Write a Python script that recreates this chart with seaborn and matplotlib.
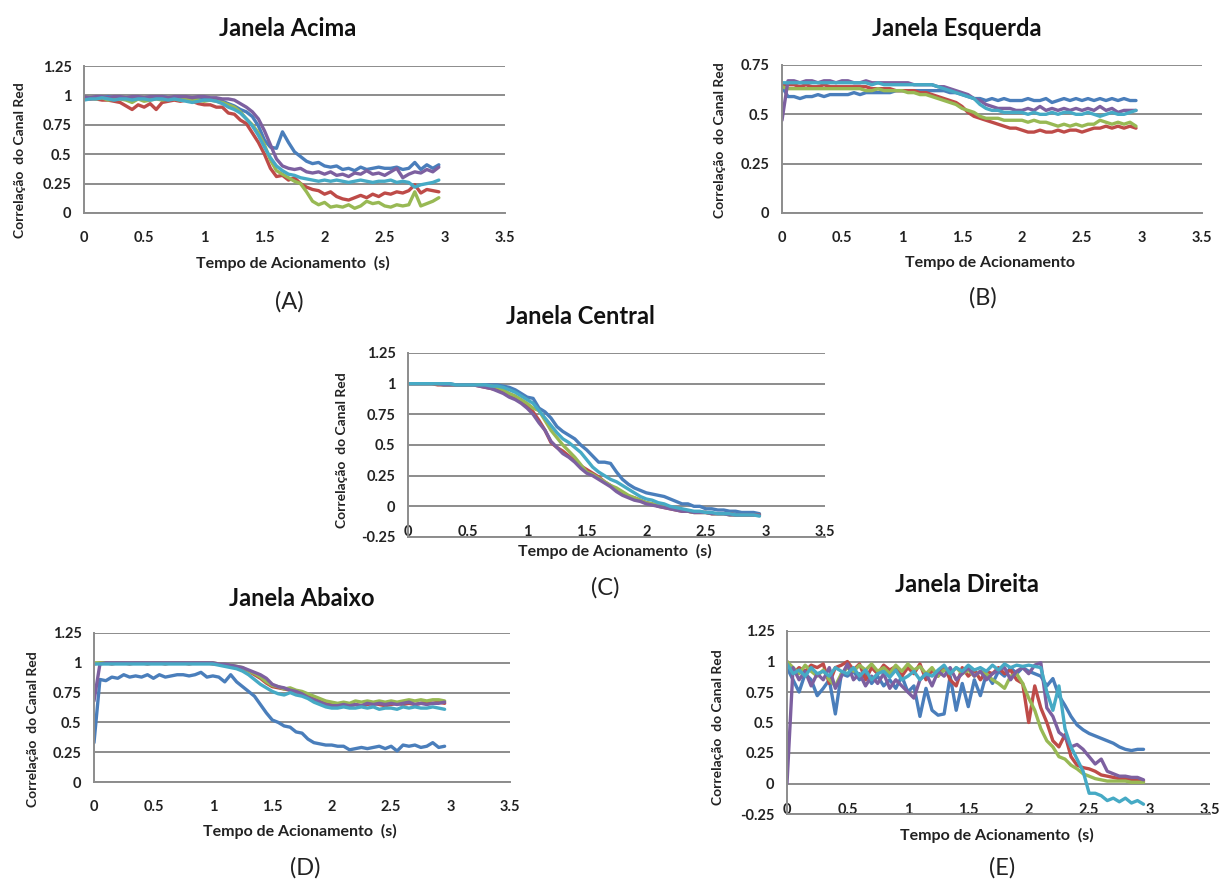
import numpy as np
import pandas as pd
import matplotlib.pyplot as plt
import seaborn as sns

# tempo (s)
T = [0.0, 0.05, 0.1, 0.15, 0.2, 0.25, 0.3, 0.35, 0.4, 0.45,
     0.5, 0.55, 0.6, 0.65, 0.7, 0.75, 0.8, 0.85, 0.9, 0.95,
     1.0, 1.05, 1.1, 1.15, 1.2, 1.25, 1.3, 1.35, 1.4, 1.45,
     1.5, 1.55, 1.6, 1.65, 1.7, 1.75, 1.8, 1.85, 1.9, 1.95,
     2.0, 2.05, 2.1, 2.15, 2.2, 2.25, 2.3, 2.35, 2.4, 2.45,
     2.5, 2.55, 2.6, 2.65, 2.7, 2.75, 2.8, 2.85, 2.9, 2.95]

# Janela Acima
A_azul = [0.98, 0.97, 0.98, 0.98, 0.99, 0.98, 0.98, 0.97, 0.98, 0.98,
          0.97, 0.98, 0.98, 0.99, 0.98, 0.98, 0.98, 0.97, 0.98, 0.98,
          0.98, 0.97, 0.97, 0.95, 0.93, 0.91, 0.88, 0.86, 0.82, 0.74,
          0.62, 0.56, 0.55, 0.69, 0.6, 0.52, 0.48, 0.44, 0.42, 0.43,
          0.4, 0.39, 0.4, 0.37, 0.38, 0.36, 0.39, 0.37, 0.38, 0.39,
          0.38, 0.38, 0.39, 0.37, 0.38, 0.43, 0.37, 0.41, 0.38, 0.41]
A_verm = [0.98, 0.97, 0.97, 0.96, 0.96, 0.95, 0.94, 0.91, 0.88, 0.92,
          0.9, 0.93, 0.88, 0.94, 0.95, 0.96, 0.95, 0.96, 0.95, 0.93,
          0.92, 0.92, 0.9, 0.9, 0.85, 0.84, 0.79, 0.76, 0.68, 0.6,
          0.5, 0.38, 0.31, 0.32, 0.28, 0.3, 0.25, 0.22, 0.2, 0.19,
          0.16, 0.18, 0.14, 0.12, 0.11, 0.13, 0.15, 0.13, 0.16, 0.14,
          0.17, 0.16, 0.18, 0.17, 0.19, 0.24, 0.17, 0.2, 0.19, 0.18]
A_verde = [0.99, 0.98, 0.97, 0.98, 0.96, 0.97, 0.97, 0.96, 0.94, 0.97,
           0.95, 0.96, 0.97, 0.96, 0.97, 0.97, 0.96, 0.97, 0.96, 0.96,
           0.95, 0.96, 0.95, 0.94, 0.92, 0.9, 0.86, 0.8, 0.75, 0.68,
           0.58, 0.45, 0.36, 0.33, 0.3, 0.27, 0.25, 0.18, 0.1, 0.07,
           0.09, 0.05, 0.06, 0.05, 0.07, 0.04, 0.06, 0.1, 0.08, 0.09,
           0.06, 0.05, 0.07, 0.06, 0.07, 0.18, 0.06, 0.08, 0.1, 0.13]
A_roxo = [0.99, 0.98, 0.99, 0.99, 0.98, 0.99, 0.99, 0.98, 0.99, 0.99,
          0.98, 0.99, 0.99, 0.99, 0.98, 0.99, 0.99, 0.99, 0.98, 0.99,
          0.99, 0.98, 0.98, 0.97, 0.97, 0.96, 0.93, 0.9, 0.86, 0.8,
          0.7, 0.58, 0.46, 0.4, 0.38, 0.37, 0.38, 0.35, 0.34, 0.35,
          0.33, 0.35, 0.32, 0.33, 0.31, 0.34, 0.33, 0.36, 0.33, 0.34,
          0.32, 0.35, 0.38, 0.3, 0.33, 0.35, 0.34, 0.37, 0.35, 0.39]
A_ciano = [0.96, 0.97, 0.97, 0.98, 0.97, 0.96, 0.97, 0.97, 0.96, 0.97,
           0.97, 0.96, 0.97, 0.97, 0.96, 0.97, 0.96, 0.95, 0.94, 0.95,
           0.96, 0.96, 0.95, 0.93, 0.9, 0.88, 0.85, 0.8, 0.74, 0.66,
           0.56, 0.47, 0.4, 0.36, 0.33, 0.32, 0.3, 0.29, 0.28, 0.27,
           0.28, 0.27, 0.28, 0.27, 0.26, 0.27, 0.28, 0.27, 0.26, 0.27,
           0.27, 0.28, 0.26, 0.27, 0.26, 0.22, 0.24, 0.25, 0.26, 0.28]

# Janela Esquerda
B_azul = [0.64, 0.59, 0.59, 0.58, 0.59, 0.59, 0.6, 0.59, 0.6, 0.6,
          0.6, 0.6, 0.61, 0.6, 0.61, 0.61, 0.61, 0.61, 0.61, 0.62,
          0.62, 0.62, 0.62, 0.62, 0.62, 0.62, 0.62, 0.62, 0.61, 0.61,
          0.6, 0.59, 0.58, 0.58, 0.57, 0.58, 0.57, 0.58, 0.57, 0.57,
          0.57, 0.58, 0.57, 0.57, 0.58, 0.56, 0.57, 0.58, 0.57, 0.58,
          0.57, 0.58, 0.57, 0.58, 0.57, 0.58, 0.57, 0.58, 0.57, 0.57]
B_verm = [0.65, 0.65, 0.65, 0.64, 0.65, 0.64, 0.64, 0.65, 0.64, 0.64,
          0.64, 0.64, 0.64, 0.64, 0.64, 0.63, 0.63, 0.63, 0.63, 0.62,
          0.62, 0.62, 0.62, 0.61, 0.61, 0.6, 0.59, 0.58, 0.57, 0.56,
          0.54, 0.51, 0.49, 0.48, 0.47, 0.46, 0.45, 0.44, 0.43, 0.43,
          0.42, 0.41, 0.41, 0.42, 0.41, 0.41, 0.42, 0.41, 0.42, 0.42,
          0.41, 0.42, 0.43, 0.43, 0.44, 0.43, 0.44, 0.43, 0.44, 0.43]
B_verde = [0.64, 0.63, 0.63, 0.63, 0.63, 0.63, 0.63, 0.63, 0.63, 0.63,
           0.63, 0.63, 0.63, 0.63, 0.62, 0.62, 0.63, 0.62, 0.62, 0.62,
           0.62, 0.61, 0.61, 0.6, 0.6, 0.59, 0.58, 0.57, 0.56, 0.55,
           0.53, 0.52, 0.51, 0.49, 0.48, 0.48, 0.48, 0.47, 0.47, 0.47,
           0.47, 0.46, 0.47, 0.46, 0.46, 0.45, 0.44, 0.45, 0.44, 0.45,
           0.44, 0.45, 0.45, 0.47, 0.46, 0.45, 0.46, 0.45, 0.46, 0.44]
B_roxo = [0.47, 0.67, 0.67, 0.66, 0.67, 0.67, 0.66, 0.67, 0.67, 0.66,
          0.67, 0.67, 0.66, 0.66, 0.67, 0.66, 0.66, 0.66, 0.66, 0.66,
          0.66, 0.66, 0.65, 0.65, 0.65, 0.65, 0.64, 0.64, 0.63, 0.62,
          0.61, 0.6, 0.58, 0.57, 0.55, 0.54, 0.53, 0.53, 0.53, 0.52,
          0.52, 0.53, 0.52, 0.54, 0.52, 0.53, 0.52, 0.53, 0.52, 0.53,
          0.52, 0.53, 0.52, 0.54, 0.52, 0.53, 0.51, 0.52, 0.52, 0.52]
B_ciano = [0.66, 0.66, 0.66, 0.66, 0.66, 0.66, 0.66, 0.66, 0.66, 0.66,
           0.66, 0.66, 0.66, 0.66, 0.66, 0.65, 0.66, 0.65, 0.65, 0.65,
           0.65, 0.65, 0.65, 0.65, 0.65, 0.65, 0.64, 0.63, 0.62, 0.61,
           0.6, 0.59, 0.58, 0.55, 0.53, 0.52, 0.52, 0.51, 0.51, 0.51,
           0.51, 0.5, 0.51, 0.5, 0.5, 0.51, 0.5, 0.51, 0.51, 0.5,
           0.5, 0.51, 0.5, 0.49, 0.5, 0.51, 0.5, 0.5, 0.51, 0.52]

# Janela Central
C_azul = [1.0, 1.0, 1.0, 1.0, 1.0, 1.0, 1.0, 1.0, 0.99, 0.99,
          0.99, 0.99, 0.99, 0.99, 0.99, 0.99, 0.98, 0.97, 0.95, 0.92,
          0.89, 0.88, 0.8, 0.77, 0.72, 0.65, 0.61, 0.58, 0.55, 0.5,
          0.46, 0.41, 0.36, 0.36, 0.35, 0.28, 0.22, 0.18, 0.15, 0.13,
          0.11, 0.1, 0.09, 0.08, 0.06, 0.04, 0.02, 0.02, 0.0, 0.0,
          -0.02, -0.02, -0.03, -0.03, -0.04, -0.04, -0.05, -0.05, -0.05, -0.06]
C_verm = [1.0, 1.0, 1.0, 1.0, 1.0, 0.99, 0.99, 0.99, 0.99, 0.99,
          0.99, 0.99, 0.98, 0.97, 0.96, 0.95, 0.93, 0.9, 0.88, 0.85,
          0.82, 0.77, 0.7, 0.62, 0.52, 0.48, 0.45, 0.41, 0.37, 0.33,
          0.3, 0.27, 0.24, 0.2, 0.17, 0.13, 0.1, 0.08, 0.07, 0.05,
          0.03, 0.02, 0.0, -0.01, -0.02, -0.03, -0.04, -0.04, -0.05, -0.05,
          -0.05, -0.06, -0.06, -0.06, -0.06, -0.07, -0.07, -0.07, -0.07, -0.07]
C_verde = [1.0, 1.0, 1.0, 1.0, 1.0, 1.0, 0.99, 0.99, 0.99, 0.99,
           0.99, 0.99, 0.99, 0.98, 0.98, 0.97, 0.95, 0.92, 0.9, 0.87,
           0.84, 0.8, 0.78, 0.7, 0.62, 0.56, 0.5, 0.45, 0.4, 0.34,
           0.28, 0.26, 0.23, 0.2, 0.17, 0.15, 0.12, 0.09, 0.07, 0.05,
           0.03, 0.02, 0.01, 0.0, -0.01, -0.02, -0.03, -0.04, -0.05, -0.05,
           -0.05, -0.06, -0.06, -0.06, -0.07, -0.07, -0.07, -0.07, -0.07, -0.07]
C_roxo = [1.0, 1.0, 1.0, 1.0, 1.0, 1.0, 0.99, 0.99, 0.99, 0.99,
          0.99, 0.99, 0.98, 0.97, 0.96, 0.94, 0.92, 0.89, 0.87, 0.84,
          0.8, 0.75, 0.68, 0.62, 0.53, 0.48, 0.43, 0.4, 0.36, 0.31,
          0.27, 0.25, 0.22, 0.19, 0.16, 0.12, 0.09, 0.07, 0.05, 0.04,
          0.02, 0.01, 0.0, -0.01, -0.02, -0.03, -0.04, -0.04, -0.05, -0.05,
          -0.05, -0.06, -0.06, -0.06, -0.07, -0.07, -0.07, -0.07, -0.07, -0.07]
C_ciano = [1.0, 1.0, 1.0, 1.0, 1.0, 1.0, 1.0, 1.0, 0.99, 0.99,
           0.99, 0.99, 0.99, 0.99, 0.98, 0.98, 0.97, 0.95, 0.93, 0.9,
           0.87, 0.84, 0.78, 0.72, 0.66, 0.6, 0.55, 0.52, 0.48, 0.44,
           0.38, 0.32, 0.28, 0.25, 0.22, 0.2, 0.17, 0.14, 0.11, 0.08,
           0.06, 0.05, 0.03, 0.02, 0.0, -0.01, -0.02, -0.03, -0.04, -0.04,
           -0.05, -0.05, -0.06, -0.06, -0.06, -0.07, -0.07, -0.07, -0.07, -0.08]

# Janela Abaixo
D_azul = [0.33, 0.86, 0.85, 0.88, 0.87, 0.9, 0.88, 0.89, 0.88, 0.9,
          0.87, 0.9, 0.88, 0.89, 0.9, 0.9, 0.89, 0.9, 0.92, 0.88,
          0.89, 0.88, 0.84, 0.9, 0.84, 0.8, 0.76, 0.72, 0.65, 0.58,
          0.52, 0.5, 0.47, 0.46, 0.42, 0.41, 0.36, 0.33, 0.32, 0.31,
          0.31, 0.3, 0.3, 0.27, 0.28, 0.29, 0.28, 0.29, 0.3, 0.28,
          0.3, 0.26, 0.31, 0.3, 0.31, 0.29, 0.3, 0.33, 0.29, 0.3]
D_verm = [0.99, 1.0, 1.0, 0.99, 1.0, 1.0, 0.99, 1.0, 1.0, 0.99,
          1.0, 1.0, 0.99, 1.0, 1.0, 1.0, 0.99, 1.0, 1.0, 1.0,
          0.99, 0.99, 0.98, 0.97, 0.96, 0.95, 0.93, 0.9, 0.87, 0.83,
          0.8, 0.79, 0.78, 0.77, 0.76, 0.74, 0.72, 0.7, 0.68, 0.66,
          0.65, 0.64, 0.65, 0.64, 0.65, 0.64, 0.65, 0.66, 0.65, 0.64,
          0.65, 0.66, 0.65, 0.66, 0.65, 0.66, 0.67, 0.66, 0.67, 0.66]
D_verde = [1.0, 1.0, 1.0, 1.0, 1.0, 1.0, 1.0, 1.0, 1.0, 1.0,
           1.0, 1.0, 1.0, 1.0, 1.0, 1.0, 1.0, 1.0, 1.0, 1.0,
           1.0, 0.99, 0.99, 0.98, 0.97, 0.96, 0.93, 0.91, 0.88, 0.84,
           0.81, 0.8, 0.78, 0.79, 0.77, 0.76, 0.74, 0.72, 0.7, 0.68,
           0.67, 0.66, 0.67, 0.66, 0.68, 0.67, 0.68, 0.67, 0.68, 0.67,
           0.68, 0.67, 0.68, 0.69, 0.68, 0.69, 0.68, 0.69, 0.69, 0.68]
D_roxo = [0.68, 0.99, 1.0, 1.0, 1.0, 1.0, 1.0, 1.0, 1.0, 1.0,
          1.0, 1.0, 1.0, 1.0, 1.0, 1.0, 1.0, 1.0, 1.0, 1.0,
          1.0, 0.99, 0.99, 0.98, 0.97, 0.96, 0.94, 0.92, 0.9, 0.87,
          0.82, 0.8, 0.79, 0.77, 0.76, 0.74, 0.71, 0.69, 0.67, 0.65,
          0.64, 0.64, 0.65, 0.64, 0.65, 0.64, 0.66, 0.65, 0.66, 0.65,
          0.66, 0.65, 0.66, 0.67, 0.65, 0.66, 0.65, 0.66, 0.66, 0.67]
D_ciano = [0.99, 0.99, 0.99, 0.99, 0.99, 0.99, 0.99, 0.99, 0.99, 0.99,
           0.99, 0.99, 0.99, 0.99, 0.99, 0.99, 0.99, 0.99, 0.99, 0.99,
           0.99, 0.98, 0.97, 0.96, 0.95, 0.93, 0.9, 0.86, 0.82, 0.79,
           0.76, 0.74, 0.73, 0.75, 0.73, 0.72, 0.7, 0.67, 0.65, 0.63,
           0.62, 0.62, 0.63, 0.62, 0.62, 0.63, 0.62, 0.63, 0.61, 0.62,
           0.62, 0.61, 0.63, 0.62, 0.63, 0.62, 0.62, 0.63, 0.62, 0.61]

# Janela Direita
E_azul = [0.95, 0.85, 0.75, 0.9, 0.85, 0.72, 0.78, 0.85, 0.57, 0.9,
          0.88, 0.92, 0.85, 0.9, 0.82, 0.88, 0.8, 0.85, 0.78, 0.88,
          0.75, 0.8, 0.55, 0.78, 0.6, 0.56, 0.57, 0.88, 0.6, 0.82,
          0.63, 0.85, 0.72, 0.9, 0.82, 0.92, 0.88, 0.95, 0.9, 0.95,
          0.92, 0.9, 0.88, 0.8, 0.86, 0.72, 0.64, 0.55, 0.48, 0.44,
          0.41, 0.39, 0.37, 0.35, 0.33, 0.3, 0.28, 0.27, 0.28, 0.28]
E_verm = [1.0, 0.9, 0.95, 0.92, 0.97, 0.95, 0.98, 0.82, 0.95, 0.97,
          1.0, 0.93, 0.98, 0.85, 0.95, 0.9, 0.97, 0.93, 0.96, 0.88,
          0.95, 0.9, 0.98, 0.85, 0.93, 0.88, 0.96, 0.85, 0.8, 0.95,
          0.88, 0.93, 0.85, 0.92, 0.9, 0.95, 0.9, 0.93, 0.85, 0.82,
          0.5, 0.8, 0.62, 0.5, 0.35, 0.3, 0.4, 0.22, 0.15, 0.13,
          0.12, 0.1, 0.07, 0.06, 0.05, 0.04, 0.04, 0.03, 0.03, 0.02]
E_verde = [1.0, 0.95, 0.9, 0.97, 0.92, 0.88, 0.93, 0.85, 0.8, 0.9,
           0.95, 0.92, 0.97, 0.93, 0.98, 0.92, 0.95, 0.9, 0.97, 0.92,
           0.98, 0.93, 0.96, 0.9, 0.95, 0.88, 0.93, 0.9, 0.95, 0.9,
           0.93, 0.88, 0.92, 0.9, 0.85, 0.82, 0.78, 0.88, 0.9, 0.82,
           0.7, 0.6, 0.45, 0.35, 0.3, 0.22, 0.2, 0.15, 0.12, 0.08,
           0.06, 0.04, 0.03, 0.02, 0.02, 0.02, 0.02, 0.01, 0.01, 0.01]
E_roxo = [0.0, 0.95, 0.85, 0.92, 0.8, 0.9, 0.85, 0.95, 0.78, 0.88,
          0.98, 0.85, 0.9, 0.8, 0.88, 0.82, 0.9, 0.78, 0.85, 0.8,
          0.75, 0.7, 0.85, 0.9, 0.8, 0.92, 0.88, 0.95, 0.85, 0.9,
          0.95, 0.88, 0.92, 0.85, 0.9, 0.93, 0.95, 0.85, 0.92, 0.95,
          0.9, 0.97, 0.99, 0.62, 0.55, 0.42, 0.38, 0.3, 0.32, 0.28,
          0.22, 0.16, 0.2, 0.1, 0.08, 0.06, 0.06, 0.05, 0.05, 0.03]
E_ciano = [0.98, 0.9, 0.93, 0.88, 0.95, 0.9, 0.92, 0.88, 0.95, 0.92,
           0.9, 0.95, 0.88, 0.93, 0.85, 0.9, 0.92, 0.87, 0.93, 0.85,
           0.88, 0.92, 0.85, 0.9, 0.88, 0.93, 0.97, 0.9, 0.95, 0.92,
           0.97, 0.93, 0.95, 0.92, 0.97, 0.93, 0.98, 0.95, 0.97, 0.96,
           0.97, 0.96, 0.95, 0.75, 0.6, 0.8, 0.45, 0.3, 0.2, 0.1,
           -0.08, -0.08, -0.1, -0.14, -0.12, -0.15, -0.12, -0.16, -0.14, -0.17]

SERIES = ['s1', 's2', 's3', 's4', 's5']
CORES = ['#4A7EBB', '#BE4B48', '#98B954', '#7D60A0', '#46AAC5']
XTICKS = [0, 0.5, 1, 1.5, 2, 2.5, 3, 3.5]
XLABELS = ['0', '0.5', '1', '1.5', '2', '2.5', '3', '3.5']
GRADE = '#8c8c8c'

sns.set_style('white')
plt.rcParams['font.family'] = ['Lato', 'DejaVu Sans']

W, H = 1225, 881
fig = plt.figure(figsize=(W / 100, H / 100), dpi=100)


def px_axes(l, r, t, b):
    return fig.add_axes([l / W, 1 - b / H, (r - l) / W, (b - t) / H])


def painel(ax, dados, ymin, ymax, yticks, ylabels, xpad):
    df = pd.DataFrame({
        't': T * 5,
        'valor': sum(dados, []),
        'serie': [s for s in SERIES for _ in T],
    })
    sns.lineplot(data=df, x='t', y='valor', hue='serie', palette=CORES,
                 legend=False, linewidth=2.4, estimator=None, sort=False, ax=ax)
    ax.set_xlim(0, 3.5)
    ax.set_ylim(ymin, ymax)
    ax.set_xticks(XTICKS)
    ax.set_xticklabels(XLABELS, fontweight='bold', fontsize=10.5, color='#222222')
    ax.set_yticks(yticks)
    ax.set_yticklabels(ylabels, fontweight='bold', fontsize=10.5, color='#222222')
    ax.yaxis.grid(True, color=GRADE, lw=1.4)
    ax.xaxis.grid(False)
    ax.set_axisbelow(True)
    for lado in ['top', 'right']:
        ax.spines[lado].set_visible(False)
    for lado in ['left', 'bottom']:
        ax.spines[lado].set_color(GRADE)
        ax.spines[lado].set_linewidth(1.4)
    ax.tick_params(axis='x', length=0, pad=xpad)
    ax.tick_params(axis='y', length=0, pad=9)
    ax.set_xlabel('')
    ax.set_ylabel('')


def textos(titulo, tpos, xlab, xpos, ypos, cap, cpos):
    fig.text(tpos[0] / W, 1 - tpos[1] / H, titulo, ha='center', va='center',
             fontsize=17, fontweight='bold', color='#111111')
    fig.text(xpos[0] / W, 1 - xpos[1] / H, xlab, ha='center', va='center',
             fontsize=11.5, fontweight='bold', color='#222222')
    fig.text(ypos[0] / W, 1 - ypos[1] / H, 'Correlação  do Canal Red', ha='center',
             va='center', rotation=90, fontsize=10, fontweight='bold', color='#222222')
    fig.text(cpos[0] / W, 1 - cpos[1] / H, cap, ha='center', va='center',
             fontsize=17, color='#222222')


y0 = [0, 0.25, 0.5, 0.75, 1, 1.25]
y0_lab = ['0', '0.25', '0.5', '0.75', '1', '1.25']
yneg = [-0.25, 0, 0.25, 0.5, 0.75, 1, 1.25]
yneg_lab = ['-0.25', '0', '0.25', '0.5', '0.75', '1', '1.25']

axA = px_axes(84, 505, 66, 213)
painel(axA, [A_azul, A_verm, A_verde, A_roxo, A_ciano], 0, 1.25, y0, y0_lab, 13)
textos('Janela Acima', (288, 28), 'Tempo de Acionamento  (s)', (293, 263),
       (20, 160), '(A)', (289, 302))

axB = px_axes(782, 1202, 65, 213)
painel(axB, [B_azul, B_verm, B_verde, B_roxo, B_ciano], 0, 0.75,
       [0, 0.25, 0.5, 0.75], ['0', '0.25', '0.5', '0.75'], 13)
textos('Janela Esquerda', (957, 28), 'Tempo de Acionamento', (990, 263),
       (720, 140), '(B)', (983, 298))

axC = px_axes(408, 825, 353, 537)
painel(axC, [C_azul, C_verm, C_verde, C_roxo, C_ciano], -0.25, 1.25, yneg, yneg_lab, -9)
textos('Janela Central', (580, 317), 'Tempo de Acionamento  (s)', (615, 551),
       (342, 450), '(C)', (605, 588))

axD = px_axes(94, 510, 633, 782)
painel(axD, [D_azul, D_verm, D_verde, D_roxo, D_ciano], 0, 1.25, y0, y0_lab, 13)
textos('Janela Abaixo', (302, 599), 'Tempo de Acionamento  (s)', (300, 831),
       (33, 729), '(D)', (305, 868))

axE = px_axes(787, 1210, 631, 814)
painel(axE, [E_azul, E_verm, E_verde, E_roxo, E_ciano], -0.25, 1.25, yneg, yneg_lab, -8)
textos('Janela Direita', (967, 584), 'Tempo de Acionamento  (s)', (997, 835),
       (718, 727), '(E)', (1002, 868))

fig.savefig('out.png', dpi=100)
